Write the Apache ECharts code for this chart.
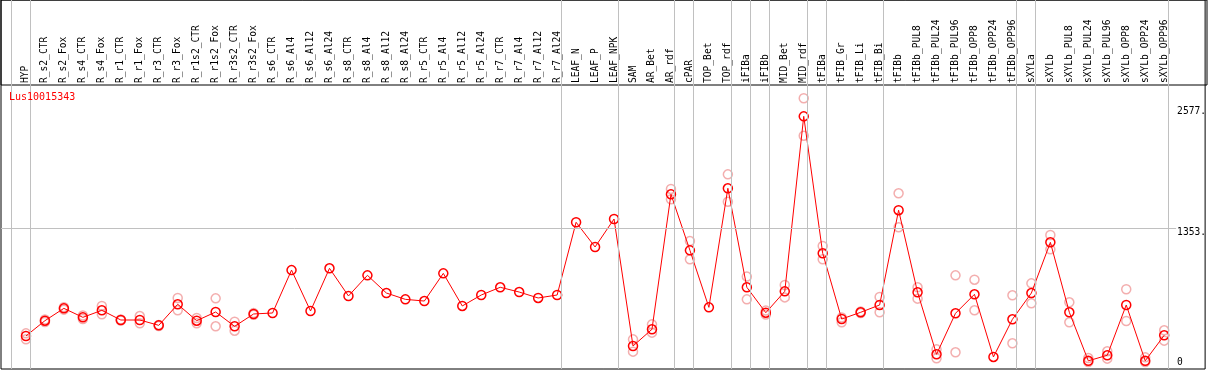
<!DOCTYPE html>
<html>
<head>
<meta charset="utf-8">
<script src="https://cdn.jsdelivr.net/npm/echarts@6/dist/echarts.min.js"></script>
<style>html,body{margin:0;padding:0;background:#fff}#c{width:1209px;height:370px}</style>
</head>
<body>
<div id="c"></div>
<script>
const title = 'Lus10015343';
const categories = ['HYP','R_s2_CTR','R_s2_Fox','R_s4_CTR','R_s4_Fox','R_r1_CTR','R_r1_Fox','R_r3_CTR','R_r3_Fox',
 'R_r1s2_CTR','R_r1s2_Fox','R_r3s2_CTR','R_r3s2_Fox','R_s6_CTR','R_s6_Al4','R_s6_Al12','R_s6_Al24',
 'R_s8_CTR','R_s8_Al4','R_s8_Al12','R_s8_Al24','R_r5_CTR','R_r5_Al4','R_r5_Al12','R_r5_Al24',
 'R_r7_CTR','R_r7_Al4','R_r7_Al12','R_r7_Al24','LEAF_N','LEAF_P','LEAF_NPK','SAM','AR_Bet','AR_rdf',
 'cPAR','TOP_Bet','TOP_rdf','iFIBa','iFIBb','MID_Bet','MID_rdf','tFIBa','tFIB_Gr','tFIB_Li','tFIB_Bi',
 'tFIBb','tFIBb_PUL8','tFIBb_PUL24','tFIBb_PUL96','tFIBb_OPP8','tFIBb_OPP24','tFIBb_OPP96',
 'sXYLa','sXYLb','sXYLb_PUL8','sXYLb_PUL24','sXYLb_PUL96','sXYLb_OPP8','sXYLb_OPP24','sXYLb_OPP96'];
const meanValues = [263,418,543,452,523,425,425,371,584,418,506,361,486,496,930,516,948,
 668,877,698,634,617,897,567,678,756,708,648,678,1414,1164,1447,162,331,1697,
 1130,553,1758,756,499,715,2486,1100,435,503,577,
 1536,705,78,493,685,51,432,
 698,1211,503,12,68,577,12,270];
const replicates = [[290,230],[430,405],[555,530],[470,435],[567,482],[430,420],[465,392],[375,365],[648,523],
 [445,391],[644,361],[408,317],[495,478],[],[],[],[],
 [],[],[],[],[],[],[],[],
 [],[],[],[],[],[],[],[229,105],[381,297],[1751,1646],
 [1224,1039],[],[1899,1622],[864,634],[520,480],[779,654],[2669,2290],[1174,1039],[450,402],[510,496],[658,503],
 [1707,1363],[756,641],[128,37],[877,98],[833,523],[],[675,189],
 [796,594],[1285,1140],[604,402],[40,0],[108,34],[736,415],[47,0],[321,216]];
const groupEnds = [-1,0,28,31,34,35,37,38,39,41,42,45,52,53,60];
const yTicks = [0,1353,2577];

const chart = echarts.init(document.getElementById('c'), null, {renderer:'canvas'});
const font = 'DejaVu Sans Mono';
const repData = [];
replicates.forEach((arr,i)=>arr.forEach(v=>repData.push([i,v])));
const sepLines = groupEnds.map(g=>({xAxis: g + 0.2}));
const xMin = -1.3158, xMax = 62.158;

chart.setOption({
  animation:false,
  backgroundColor:'#fff',
  title:{text:title,left:9,top:92,padding:0,textStyle:{color:'#ff0000',fontFamily:font,fontSize:10,fontWeight:'normal'}},
  grid:[
    {left:1,top:0,width:1206,height:369,show:true,borderColor:'#000',borderWidth:1,backgroundColor:'transparent'},
    {left:1,top:0,width:1206,height:85,show:true,borderColor:'#000',borderWidth:1,backgroundColor:'transparent'}
  ],
  xAxis:[
    {type:'value',gridIndex:0,min:xMin,max:xMax,position:'top',offset:-85,
    axisLine:{show:false},axisTick:{show:false},splitLine:{show:false},
    axisLabel:{show:true,rotate:90,margin:2,fontFamily:font,fontSize:9.6,color:'#000',
      customValues:categories.map((c,i)=>i),
      formatter:v=>categories[Math.round(v)]||''}},
    {type:'value',gridIndex:1,min:xMin,max:xMax,show:false}
  ],
  yAxis:[
    {type:'value',gridIndex:0,min:-70.8,max:3663.3,position:'right',
    axisLine:{show:false},axisTick:{show:false},splitLine:{show:false},
    axisLabel:{show:true,inside:true,align:'left',margin:28,verticalAlign:'middle',
      customValues:yTicks,fontFamily:font,fontSize:9.6,color:'#000',
      formatter:v=>v===0?'{z|0}':'{a|'+v+'.}',
      rich:{a:{fontFamily:font,fontSize:9.6,color:'#000',lineHeight:10,padding:[8,0,0,0]},
            z:{fontFamily:font,fontSize:9.6,color:'#000',lineHeight:10}}}},
    {type:'value',gridIndex:1,min:0,max:1,show:false}
  ],
  series:[
    {type:'scatter',xAxisIndex:0,yAxisIndex:0,data:repData,symbol:'circle',symbolSize:9,z:2,silent:true,
     itemStyle:{color:'rgba(255,255,255,0)',borderColor:'#f09a9a',borderWidth:1.5},
     markLine:{silent:true,symbol:'none',label:{show:false},animation:false,
       lineStyle:{color:'#c0c0c0',width:1,type:'solid'},
       data:sepLines.concat([[{coord:[xMin,yTicks[1]]},{coord:[60.63,yTicks[1]]}]])}},
    {type:'line',xAxisIndex:0,yAxisIndex:0,data:meanValues.map((v,i)=>[i,v]),symbol:'circle',symbolSize:9,z:3,silent:true,
     lineStyle:{color:'#ff0000',width:1},
     itemStyle:{color:'rgba(255,255,255,0)',borderColor:'#ff0000',borderWidth:1.5}}
  ]
});
</script>
</body>
</html>
